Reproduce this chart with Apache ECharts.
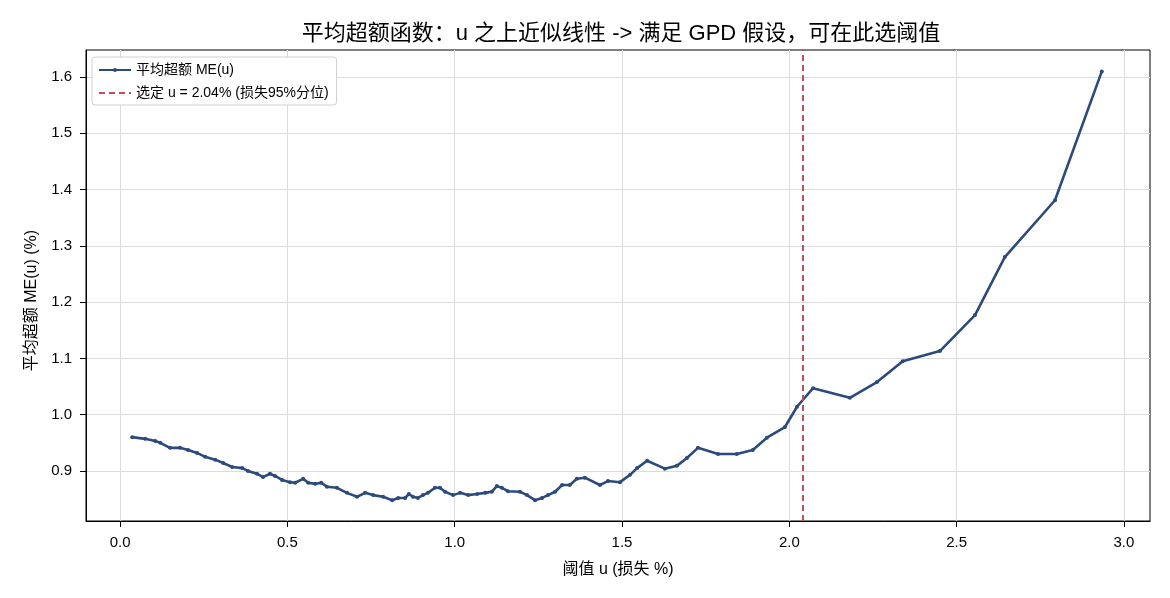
<!DOCTYPE html>
<html>
<head>
<meta charset="utf-8">
<script src="https://cdn.jsdelivr.net/npm/echarts@6/dist/echarts.min.js"></script>
<style>
  html, body { margin: 0; padding: 0; background: #fff; }
  #chart { width: 1170px; height: 598px; }
</style>
</head>
<body>
<div id="chart"></div>
<script>
// 阈值 u (损失 %)
const thresholds = [
  0.036, 0.075, 0.105, 0.120, 0.149, 0.179, 0.203, 0.230, 0.254, 0.284,
  0.308, 0.335, 0.365, 0.382, 0.409, 0.427, 0.448, 0.463, 0.484, 0.508,
  0.523, 0.547, 0.562, 0.583, 0.601, 0.618, 0.648, 0.678, 0.708, 0.732,
  0.756, 0.786, 0.813, 0.831, 0.852, 0.863, 0.875, 0.890, 0.905, 0.920,
  0.941, 0.956, 0.971, 0.995, 1.016, 1.040, 1.067, 1.091, 1.111, 1.126,
  1.141, 1.159, 1.195, 1.216, 1.240, 1.261, 1.279, 1.300, 1.321, 1.344,
  1.365, 1.389, 1.434, 1.458, 1.494, 1.524, 1.545, 1.575, 1.628, 1.664,
  1.694, 1.727, 1.787, 1.843, 1.891, 1.933, 1.987, 2.023, 2.071, 2.181,
  2.262, 2.339, 2.450, 2.555, 2.644, 2.794, 2.934
]
// 平均超额 ME(u) (%)
const meanExcess = [
  0.960, 0.957, 0.953, 0.950, 0.941, 0.941, 0.937, 0.932, 0.925, 0.920,
  0.914, 0.907, 0.905, 0.900, 0.895, 0.889, 0.895, 0.891, 0.884, 0.880,
  0.879, 0.886, 0.879, 0.877, 0.879, 0.872, 0.870, 0.861, 0.854, 0.861,
  0.857, 0.854, 0.848, 0.852, 0.852, 0.859, 0.854, 0.852, 0.857, 0.861,
  0.870, 0.870, 0.863, 0.857, 0.861, 0.857, 0.859, 0.861, 0.863, 0.873,
  0.870, 0.864, 0.863, 0.857, 0.848, 0.852, 0.857, 0.863, 0.875, 0.875,
  0.886, 0.888, 0.875, 0.882, 0.880, 0.893, 0.905, 0.918, 0.904, 0.909,
  0.923, 0.941, 0.930, 0.930, 0.937, 0.959, 0.978, 1.014, 1.047, 1.030,
  1.058, 1.095, 1.113, 1.177, 1.280, 1.381, 1.610
]
// 选定阈值
const chosenU = 2.04
// 刻度
const xTicks = [0.0, 0.5, 1.0, 1.5, 2.0, 2.5, 3.0]
const yTicks = [0.9, 1.0, 1.1, 1.2, 1.3, 1.4, 1.5, 1.6]

const FONT = '"Liberation Sans", Arial, "Noto Sans CJK SC", sans-serif'
const BLUE = '#2d4a7c'
const RED = '#c44e55'

const chart = echarts.init(document.getElementById('chart'))

const meName = '平均超额 ME(u)'
const uName = '选定 u = ' + chosenU.toFixed(2) + '% (损失95%分位)'

const option = {
  backgroundColor: '#fff',
  textStyle: { fontFamily: FONT },
  animation: false,
  title: {
    text: '平均超额函数：u 之上近似线性 -> 满足 GPD 假设，可在此选阈值',
    left: 616,
    textAlign: 'center',
    top: 18,
    textStyle: { fontFamily: FONT, fontSize: 22, fontWeight: 'normal', color: '#000' }
  },
  legend: {
    orient: 'vertical',
    left: 92,
    top: 57,
    padding: [6, 8, 5, 6],
    itemGap: 9,
    itemWidth: 32,
    itemHeight: 5,
    backgroundColor: '#fff',
    borderColor: '#d0d0d0',
    borderWidth: 1,
    borderRadius: 3,
    textStyle: { fontFamily: FONT, fontSize: 14, color: '#000' },
    data: [
      { name: meName },
      { name: uName, itemStyle: { opacity: 0 } }
    ]
  },
  grid: {
    left: 86,
    right: 20,
    top: 50,
    bottom: 77,
    show: true,
    borderColor: '#000',
    borderWidth: 1
  },
  xAxis: {
    type: 'value',
    min: -0.102,
    max: 3.078,
    name: '阈值 u (损失 %)',
    nameLocation: 'middle',
    nameGap: 41,
    nameTextStyle: { fontFamily: FONT, fontSize: 16, color: '#000' },
    axisLine: { show: true, onZero: false, lineStyle: { color: '#000' } },
    axisTick: { show: true, length: 6, lineStyle: { color: '#000' }, customValues: xTicks },
    axisLabel: {
      fontSize: 15, color: '#000', margin: 14,
      customValues: xTicks,
      formatter: v => v.toFixed(1)
    },
    splitLine: { show: true, lineStyle: { color: '#dcdcdc', width: 1 } }
  },
  yAxis: {
    type: 'value',
    min: 0.811,
    max: 1.648,
    name: '平均超额 ME(u) (%)',
    nameLocation: 'middle',
    nameGap: 46,
    nameTextStyle: { fontFamily: FONT, fontSize: 16, color: '#000', padding: [0, 30, 0, 0] },
    axisLine: { show: true, onZero: false, lineStyle: { color: '#000' } },
    axisTick: { show: true, length: 6, lineStyle: { color: '#000' }, customValues: yTicks },
    axisLabel: {
      fontSize: 15, color: '#000', margin: 14,
      customValues: yTicks,
      formatter: v => v.toFixed(1)
    },
    splitLine: { show: true, lineStyle: { color: '#dcdcdc', width: 1 } }
  },
  series: [
    {
      name: meName,
      type: 'line',
      data: thresholds.map((u, i) => [u, meanExcess[i]]),
      symbol: 'circle',
      symbolSize: 4,
      showSymbol: true,
      itemStyle: { color: BLUE },
      lineStyle: { color: BLUE, width: 2.6 },
      z: 3
    },
    {
      name: uName,
      type: 'line',
      data: [],
      symbol: 'none',
      itemStyle: { color: RED },
      lineStyle: { color: RED, width: 2, type: [6, 4] },
      markLine: {
        silent: true,
        symbol: 'none',
        label: { show: false },
        lineStyle: { color: RED, width: 2, type: [6, 4] },
        data: [{ xAxis: chosenU }]
      },
      z: 4
    }
  ]
}

chart.setOption(option)
</script>
</body>
</html>
